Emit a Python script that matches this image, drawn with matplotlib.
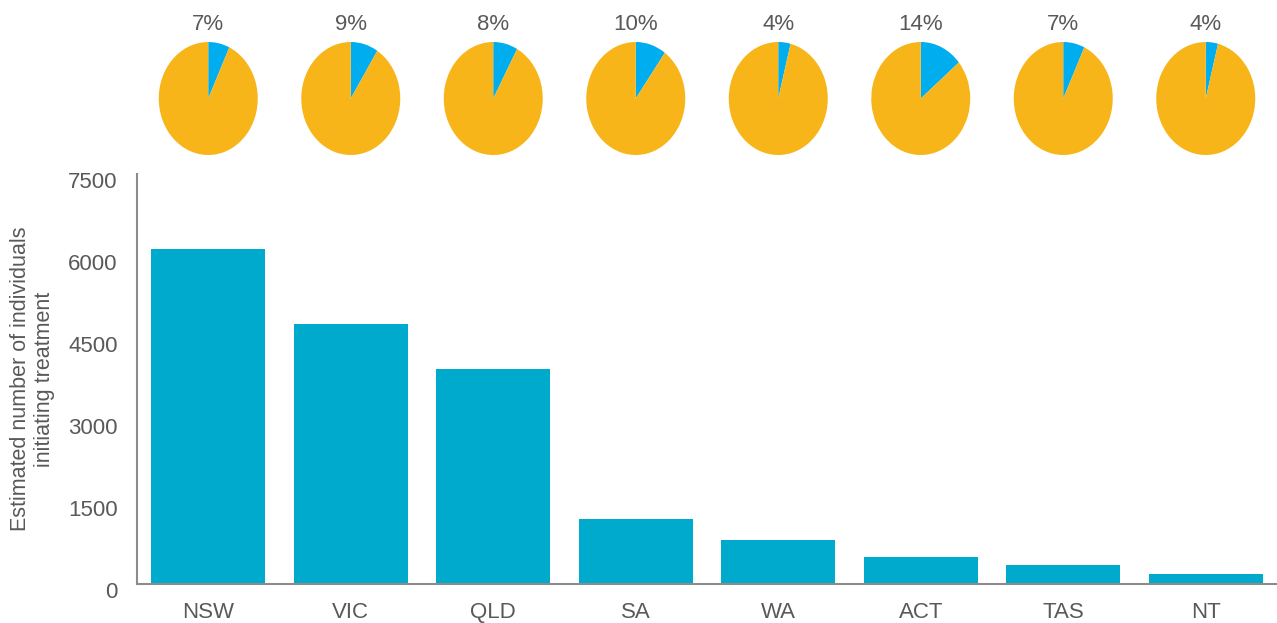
import matplotlib
matplotlib.use("Agg")
import matplotlib.pyplot as plt
import matplotlib.transforms as mtransforms

plt.rcParams['font.family'] = ['Liberation Sans', 'DejaVu Sans']

states = ["NSW", "VIC", "QLD", "SA", "WA", "ACT", "TAS", "NT"]
individuals = [6130, 4760, 3930, 1190, 805, 495, 350, 185]
pie_pct = [7, 9, 8, 10, 4, 14, 7, 4]
yticks = [0, 1500, 3000, 4500, 6000, 7500]

bar_color = "#00AACC"
pie_blue = "#00AEEF"
pie_orange = "#F8B51A"
text_color = "#595959"
spine_color = "#8C8C8C"
fs = 16

W, H = 1277, 623
fig = plt.figure(figsize=(W / 100, H / 100), dpi=100)

ax_left, ax_right, ax_top, ax_bottom = 137, 1277, 174, 584
ax = fig.add_axes([ax_left / W, (H - ax_bottom) / H, (ax_right - ax_left) / W, (ax_bottom - ax_top) / H])
x = list(range(len(states)))
ax.bar(x, individuals, width=0.8, color=bar_color)
ax.set_xlim(-0.5, len(states) - 0.5)
ax.set_ylim(0, 7500)
ax.set_yticks(yticks)
ax.set_yticklabels([str(v) for v in yticks])
ax.set_xticks(x)
ax.set_xticklabels(states)
ax.tick_params(axis='both', length=0, labelsize=fs, colors=text_color)
ax.tick_params(axis='y', pad=14)
ax.tick_params(axis='x', pad=13)
shift = mtransforms.ScaledTranslation(0, -6 / 100, fig.dpi_scale_trans)
for lab in ax.get_yticklabels():
    lab.set_transform(lab.get_transform() + shift)
for s in ['top', 'right']:
    ax.spines[s].set_visible(False)
for s in ['left', 'bottom']:
    ax.spines[s].set_color(spine_color)
    ax.spines[s].set_linewidth(1.5)
ax.set_ylabel("Estimated number of individuals\ninitiating treatment", fontsize=15.5,
              color=text_color, labelpad=9, linespacing=1.2)

# pies
step = (ax_right - ax_left) / len(states)
pw, ph = 99, 113
ptop = 42
for i, p in enumerate(pie_pct):
    cx = ax_left + (i + 0.5) * step
    pax = fig.add_axes([(cx - pw / 2) / W, (H - ptop - ph) / H, pw / W, ph / H])
    pax.pie([p, 100 - p], colors=[pie_blue, pie_orange], startangle=90,
            counterclock=False, radius=1.0)
    pax.set_aspect('auto')
    pax.set_xlim(-1, 1)
    pax.set_ylim(-1, 1)
    pax.axis('off')
    pax.text(0.5, 1 + 17 / ph, f"{p}%", transform=pax.transAxes, ha='center',
             va='center', fontsize=fs, color=text_color)

fig.savefig("out.png", dpi=100)
